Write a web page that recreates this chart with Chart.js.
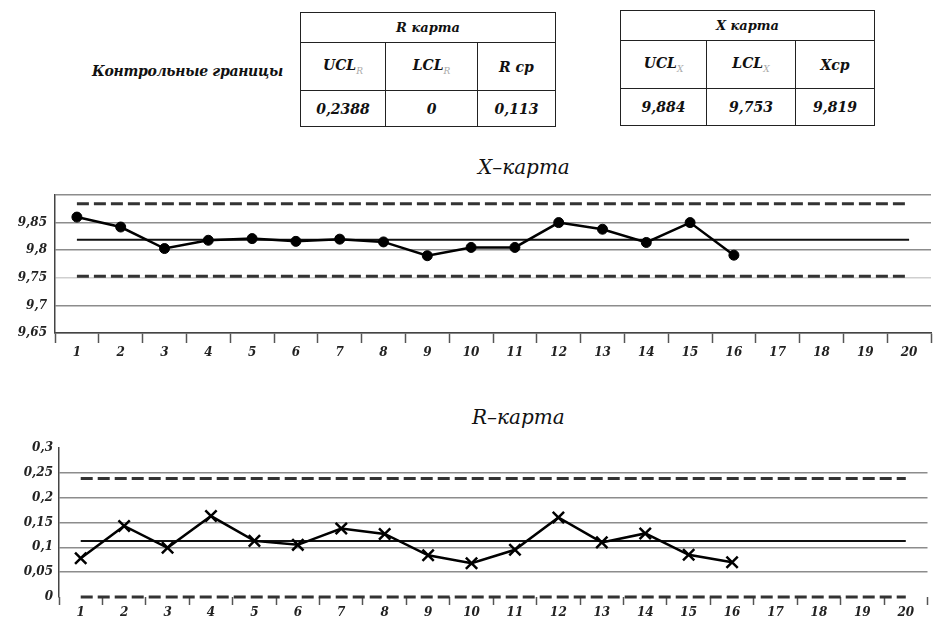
<!DOCTYPE html>
<html>
<head>
<meta charset="utf-8">
<script src="https://cdn.jsdelivr.net/npm/chart.js@4.4.1/dist/chart.umd.min.js"></script>
<style>
  body { margin: 0; background: #fff; width: 938px; height: 622px; position: relative; overflow: hidden;
         font-family: "DejaVu Serif", "Times New Roman", serif; font-style: italic; color: #111; }
  .abs { position: absolute; }
  table.lim { border-collapse: collapse; position: absolute; font-weight: bold; font-size: 14px; }
  table.lim td { border: 1.5px solid #222; text-align: center; padding: 0; }
  table.lim tr.head td { font-size: 13px; }
  table.lim sub { color: #aaa; font-size: 9px; font-weight: normal; }
  .title { font-size: 20px; }
  canvas { position: absolute; left: 0; }
</style>
</head>
<body>
<div class="abs" style="left:92px; top:63px; font-size:14px; font-weight:bold; letter-spacing:-0.3px;">Контрольные границы</div>

<table class="lim" id="rTable" style="left:300px; top:12px; width:256px;">
  <tr class="head" style="height:30px"><td colspan="3">R карта</td></tr>
  <tr style="height:48px"><td style="width:84px">UCL<sub>R</sub></td><td style="width:91px">LCL<sub>R</sub></td><td>R ср</td></tr>
  <tr style="height:36px"><td id="uclR"></td><td id="lclR"></td><td id="clR"></td></tr>
</table>

<table class="lim" id="xTable" style="left:620px; top:10px; width:255px;">
  <tr class="head" style="height:30px"><td colspan="3">X карта</td></tr>
  <tr style="height:48px"><td style="width:85px">UCL<sub>X</sub></td><td style="width:88px">LCL<sub>X</sub></td><td>Xср</td></tr>
  <tr style="height:37px"><td id="uclX"></td><td id="lclX"></td><td id="clX"></td></tr>
</table>

<div class="abs title" style="left:478px; top:155px;">X–карта</div>
<canvas id="xChart" width="938" height="218" style="top:150px"></canvas>

<div class="abs title" style="left:472px; top:405px;">R–карта</div>
<canvas id="rChart" width="938" height="222" style="top:400px"></canvas>

<script>
// subgroup numbers
const categories = ['1','2','3','4','5','6','7','8','9','10','11','12','13','14','15','16','17','18','19','20'];

// subgroup means (X chart), 16 measured samples
const xMeans = [9.860, 9.842, 9.803, 9.818, 9.821, 9.816, 9.820, 9.815, 9.790, 9.805, 9.805, 9.850, 9.838, 9.814, 9.850, 9.791];

// subgroup ranges (R chart)
const rRanges = [0.078, 0.143, 0.099, 0.163, 0.113, 0.105, 0.138, 0.127, 0.084, 0.068, 0.095, 0.160, 0.110, 0.128, 0.085, 0.070];

// control limits from the tables
const UCL_X = 9.884, LCL_X = 9.753, CL_X = 9.819;
const UCL_R = 0.2388, LCL_R = 0, CL_R = 0.113;

// y tick labels
const xTickValues = [9.65, 9.7, 9.75, 9.8, 9.85, 9.9];
const rTickValues = [0, 0.05, 0.1, 0.15, 0.2, 0.25, 0.3];

const fmt = v => String(v).replace('.', ',');

// fill the tables
document.getElementById('uclR').textContent = fmt(UCL_R);
document.getElementById('lclR').textContent = fmt(LCL_R);
document.getElementById('clR').textContent = fmt(CL_R);
document.getElementById('uclX').textContent = fmt(UCL_X);
document.getElementById('lclX').textContent = fmt(LCL_X);
document.getElementById('clX').textContent = fmt(CL_X);

const tickFont = { family: '"DejaVu Serif", "Times New Roman", serif', style: 'italic', weight: 'bold', size: 12 };

function limitLine(value, dashed) {
  return {
    data: [{ x: categories[0], y: value }, { x: categories[categories.length - 1], y: value }],
    borderColor: dashed ? '#333' : '#111',
    borderWidth: dashed ? 3 : 2,
    borderDash: dashed ? [12, 5] : [],
    pointRadius: 0,
    clip: false,
    order: 2
  };
}

function controlChart(id, cfg) {
  const ctx = document.getElementById(id).getContext('2d');
  return new Chart(ctx, {
    type: 'line',
    data: {
      labels: categories,
      datasets: [
        {
          data: cfg.values,
          borderColor: '#000',
          backgroundColor: '#000',
          borderWidth: 2.5,
          pointStyle: cfg.pointStyle,
          pointRadius: cfg.pointRadius,
          pointBorderWidth: cfg.pointBorderWidth,
          pointBorderColor: '#000',
          pointBackgroundColor: '#000',
          tension: 0,
          clip: false,
          order: 1
        },
        limitLine(cfg.ucl, true),
        limitLine(cfg.cl, false),
        limitLine(cfg.lcl, true)
      ]
    },
    options: {
      responsive: false,
      animation: false,
      layout: { padding: cfg.padding },
      plugins: { legend: { display: false }, tooltip: { enabled: false } },
      scales: {
        x: {
          offset: true,
          grid: { offset: true, drawOnChartArea: false, drawTicks: true, tickLength: cfg.tickLength, tickColor: '#555', tickWidth: 1.5 },
          border: { display: cfg.xBorder, color: '#444', width: 1.5 },
          ticks: { font: tickFont, color: '#222', padding: cfg.xPad, maxRotation: 0 },
          afterFit: s => { s.height = cfg.xHeight; }
        },
        y: {
          min: cfg.ticks[0],
          max: cfg.ticks[cfg.ticks.length - 1],
          afterBuildTicks: s => { s.ticks = cfg.ticks.map(v => ({ value: v })); },
          grid: {
            drawTicks: false,
            lineWidth: 1.5,
            color: c => cfg.gridColor(c.tick.value)
          },
          border: { color: '#444', width: 1.5 },
          ticks: {
            font: tickFont, color: '#222', padding: cfg.yPad,
            callback: v => cfg.label(v)
          },
          afterFit: s => { s.width = cfg.yWidth; }
        }
      }
    }
  });
}

controlChart('xChart', {
  values: xMeans, ucl: UCL_X, cl: CL_X, lcl: LCL_X, ticks: xTickValues,
  pointStyle: 'circle', pointRadius: 5, pointBorderWidth: 1,
  padding: { top: 45, right: 7, left: 0, bottom: 0 },
  tickLength: 10, xPad: 3, xHeight: 35, yWidth: 55, yPad: 8, xBorder: true,
  gridColor: v => Math.abs(v - 9.75) < 1e-6 ? '#cfcfcf' : '#8c8c8c',
  label: v => v > 9.89 ? '' : fmt(Number(v.toFixed(2)))
});

controlChart('rChart', {
  values: rRanges, ucl: UCL_R, cl: CL_R, lcl: LCL_R, ticks: rTickValues,
  pointStyle: 'crossRot', pointRadius: 8, pointBorderWidth: 2.5,
  padding: { top: 48, right: 1, left: 0, bottom: 0 },
  tickLength: 8, xPad: 1, xHeight: 25, yWidth: 59, yPad: 6, xBorder: false,
  gridColor: v => (v > 0.29 || v < 0.01) ? 'rgba(0,0,0,0)' : '#8c8c8c',
  label: v => fmt(Number(v.toFixed(2)))
});
</script>
</body>
</html>
